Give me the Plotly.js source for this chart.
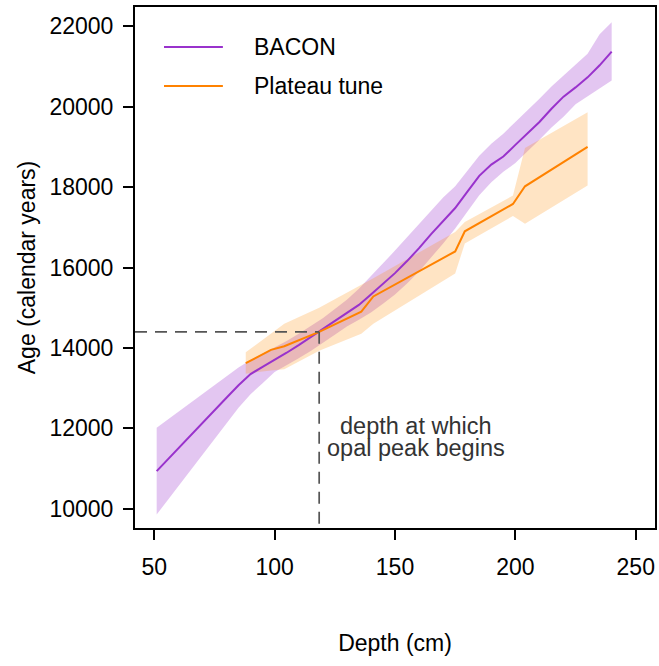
<!DOCTYPE html>
<html><head><meta charset="utf-8">
<script src="https://cdn.plot.ly/plotly-3.0.1.min.js"></script>
<style>html,body{margin:0;padding:0;background:#fff;}</style>
</head><body><div id="chart" style="width:659px;height:666px;"></div>
<script>
// BACON age model
const baconDepth = [51,55,60,65,70,75,80,85,90,95,100,105,110,115,120,125,130,135,140,145,150,155,160,165,170,175,180,185,190,195,200,205,210,215,220,225,230,235,240];
const baconAge   = [10935,11190,11500,11815,12130,12445,12760,13070,13350,13530,13700,13880,14070,14270,14470,14680,14880,15070,15330,15600,15860,16160,16480,16830,17150,17480,17880,18280,18560,18760,19050,19330,19620,19950,20250,20480,20730,21030,21370];
const baconUpper = [12016,12190,12410,12630,12850,13070,13290,13510,13700,13860,14000,14170,14350,14550,14740,14970,15200,15470,15780,16100,16420,16750,17080,17420,17740,18020,18400,18780,19080,19330,19620,19900,20200,20500,20780,21050,21320,21800,22100];
const baconLower = [9855,10170,10560,10950,11340,11730,12120,12510,12850,13120,13400,13560,13740,13920,14120,14330,14530,14700,14880,15100,15330,15600,15900,16250,16600,16970,17380,17800,18120,18380,18600,18880,19180,19480,19750,20060,20260,20460,20650];

// Plateau tune age model
const tuneDepth = [88,98.5,104,118.5,136,141,175,179,199,204,230];
const tuneAge   = [13620,13950,14040,14400,14900,15280,16400,16900,17580,18020,19000];
const tuneUpper = [13890,14370,14600,15000,15570,15735,16880,17130,17790,18970,19860];
const tuneLower = [13360,13440,13470,13930,14350,14600,15850,16600,17280,17090,18040];

const seriesNames = ['BACON', 'Plateau tune'];
const xTicks = [50,100,150,200,250];
const yTicks = [10000,12000,14000,16000,18000,20000,22000];
const opalDepth = 118.5;
const opalAge = 14400;
const noteLines = ['depth at which', 'opal peak begins'];

const FONT = 'Liberation Sans, Arial, Helvetica, sans-serif';
const purple = 'rgb(153,50,204)';
const orange = 'rgb(255,130,0)';

function band(x, up, lo) {
  return {x: x.concat(x.slice().reverse()), y: up.concat(lo.slice().reverse())};
}
const bB = band(baconDepth, baconUpper, baconLower);
const tB = band(tuneDepth, tuneUpper, tuneLower);

const traces = [
  {x: bB.x, y: bB.y, type:'scatter', mode:'lines', fill:'toself', fillcolor:'rgba(153,50,204,0.28)', line:{width:0}, hoverinfo:'skip', showlegend:false},
  {x: tB.x, y: tB.y, type:'scatter', mode:'lines', fill:'toself', fillcolor:'rgba(255,140,0,0.23)', line:{width:0}, hoverinfo:'skip', showlegend:false},
  {x: baconDepth, y: baconAge, type:'scatter', mode:'lines', name: seriesNames[0], line:{color:purple, width:2}, showlegend:false},
  {x: tuneDepth, y: tuneAge, type:'scatter', mode:'lines', name: seriesNames[1], line:{color:orange, width:2}, showlegend:false}
];

// legend drawn manually (paper coords)
const legY = [0.9232, 0.8484];
const legColors = [purple, orange];
const dashStyle = {color:'#555', width:1.7, dash:'12px,8px'};
const shapes = [
  {type:'line', xref:'x', yref:'y', x0:42, x1:opalDepth, y0:opalAge, y1:opalAge, line:dashStyle},
  {type:'line', xref:'x', yref:'y', x0:opalDepth, x1:opalDepth, y0:opalAge, y1:9520, line:dashStyle}
];
legY.forEach((yy, i) => {
  shapes.push({type:'line', xref:'paper', yref:'paper', x0:0.0558, x1:0.169, y0:yy, y1:yy, line:{color:legColors[i], width:2}});
});
const annotations = [];
legY.forEach((yy, i) => {
  annotations.push({xref:'paper', yref:'paper', x:0.225, y:yy, xanchor:'left', yanchor:'middle', text:seriesNames[i], showarrow:false, font:{family:FONT, size:23, color:'#000'}});
});
annotations.push({xref:'paper', yref:'paper', x:0.5404, y:0.1958, xanchor:'center', yanchor:'middle', text:noteLines[0], showarrow:false, font:{family:FONT, size:23.5, color:'#333'}});
annotations.push({xref:'paper', yref:'paper', x:0.5404, y:0.1545, xanchor:'center', yanchor:'middle', text:noteLines[1], showarrow:false, font:{family:FONT, size:23.5, color:'#333'}});

const layout = {
  width:659, height:666,
  margin:{l:135, r:4, t:7, b:138},
  paper_bgcolor:'#fff', plot_bgcolor:'#fff',
  font:{family:FONT, size:23, color:'#000'},
  showlegend:false,
  xaxis:{
    range:[42,258], tickvals:xTicks, ticktext:xTicks.map(String),
    showgrid:false, zeroline:false, showline:true, mirror:true, linecolor:'#000', linewidth:2,
    ticks:'outside', ticklen:10, tickwidth:2, tickcolor:'#000',
    tickfont:{family:FONT, size:23, color:'#000'}, ticklabelstandoff:7,
    title:{text:'Depth (cm)', font:{family:FONT, size:23, color:'#000'}, standoff:56}
  },
  yaxis:{
    range:[9520,22480], tickvals:yTicks, ticktext:yTicks.map(String),
    showgrid:false, zeroline:false, showline:true, mirror:true, linecolor:'#000', linewidth:2,
    ticks:'outside', ticklen:10, tickwidth:2, tickcolor:'#000',
    tickfont:{family:FONT, size:23, color:'#000'}, ticklabelstandoff:5,
    title:{text:'Age (calendar years)', font:{family:FONT, size:23, color:'#000'}, standoff:7}
  },
  shapes:shapes,
  annotations:annotations
};

Plotly.newPlot('chart', traces, layout, {displayModeBar:false, staticPlot:true});
</script>
</body></html>
